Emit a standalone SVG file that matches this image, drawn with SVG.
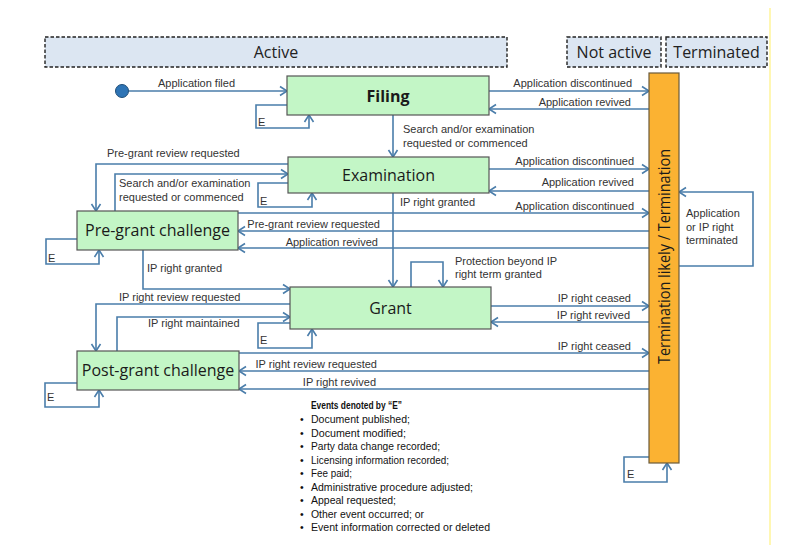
<svg xmlns="http://www.w3.org/2000/svg" width="800" height="545" viewBox="0 0 800 545">
<defs>
<marker id="arr" markerUnits="userSpaceOnUse" markerWidth="12" markerHeight="12" refX="9" refY="6" orient="auto">
<path d="M2,1.5 L9,6 L2,10.5" fill="none" stroke="#4A7DAA" stroke-width="1.6"/>
</marker>
<style>
.hdr{fill:#DCE6F2;stroke:#222;stroke-width:1.4;stroke-dasharray:3.5 2}
.ht{font-family:"Open Sans","Liberation Sans",sans-serif;font-size:16px;fill:#222;text-anchor:middle}
.node{fill:#C3F6C6;stroke:#555;stroke-width:1.2}
.nt{font-family:"Open Sans","Liberation Sans",sans-serif;font-size:16px;fill:#1a1a1a;text-anchor:middle}
.c{fill:none;stroke:#4A7DAA;stroke-width:1.6}
.a{marker-end:url(#arr)}
.l{font-family:"Liberation Sans",Arial,sans-serif;font-size:11px;fill:#333}
.e{text-anchor:end}
.ev{font-family:"Liberation Sans",Arial,sans-serif;font-size:10.5px;fill:#111}
</style>
</defs>
<rect width="800" height="545" fill="#fff"/>
<line x1="770" y1="8" x2="770" y2="545" stroke="#FFF59A" stroke-width="1.5"/>

<g id="hdr-active"><rect class="hdr" x="45" y="37" width="462" height="30"/><text class="ht" x="276" y="57.5">Active</text></g>
<g id="hdr-notactive"><rect class="hdr" x="567" y="37" width="94" height="30"/><text class="ht" x="614" y="57.5">Not active</text></g>
<g id="hdr-terminated"><rect class="hdr" x="666" y="37" width="101" height="30"/><text class="ht" x="716.5" y="57.5">Terminated</text></g>

<g id="connectors">
<path class="c a" d="M129,91 H287"/>
<path class="c a" d="M287,105 H256 V128 H309 V115"/>
<path class="c a" d="M489,91 H649"/>
<path class="c a" d="M649,109 H489"/>
<path class="c a" d="M393,115 V157"/>
<path class="c a" d="M489,169 H649"/>
<path class="c a" d="M649,191 H489"/>
<path class="c a" d="M288,164 H96 V211"/>
<path class="c a" d="M115,211 V174 H288"/>
<path class="c a" d="M288,183 H258 V207 H312 V193"/>
<path class="c a" d="M393,193 V287"/>
<path class="c a" d="M238,213 H649"/>
<path class="c a" d="M649,231 H238"/>
<path class="c a" d="M649,248 H238"/>
<path class="c a" d="M77,239 H46 V264 H99 V250"/>
<path class="c a" d="M143,250 V289 H290"/>
<path class="c a" d="M411,287 V262 H443 V287"/>
<path class="c a" d="M491,306 H649"/>
<path class="c a" d="M649,322 H491"/>
<path class="c a" d="M290,304 H96 V351"/>
<path class="c a" d="M117,351 V317 H290"/>
<path class="c a" d="M290,323 H258 V348 H312 V329"/>
<path class="c a" d="M239,353 H649"/>
<path class="c a" d="M649,371 H239"/>
<path class="c a" d="M649,389 H239"/>
<path class="c a" d="M77,383 H45 V407 H99 V390"/>
<path class="c a" d="M679,266 H753 V192 H679"/>
<path class="c a" d="M649,457 H624 V482 H667 V463"/>
</g>

<g id="start"><circle cx="122" cy="91" r="6.5" fill="#2E74B5" stroke="#1F4E79" stroke-width="1"/></g>

<g id="filing"><rect class="node" x="287" y="76" width="202" height="39"/><text class="nt" x="388" y="101.5" font-weight="bold">Filing</text></g>
<g id="examination"><rect class="node" x="288" y="157" width="201" height="36"/><text class="nt" x="388.5" y="180.5">Examination</text></g>
<g id="pregrant"><rect class="node" x="77" y="211" width="161" height="39"/><text class="nt" x="157.5" y="236">Pre-grant challenge</text></g>
<g id="grant"><rect class="node" x="290" y="287" width="201" height="42"/><text class="nt" x="390.5" y="313.5">Grant</text></g>
<g id="postgrant"><rect class="node" x="77" y="351" width="162" height="39"/><text class="nt" x="158" y="376">Post-grant challenge</text></g>
<g id="termination"><rect x="649" y="73" width="30" height="390" fill="#FBB232" stroke="#6B5A3A" stroke-width="1.2"/><text class="nt" transform="translate(669.5,256.5) rotate(-90)" x="0" y="0" font-size="15.5" textLength="215" lengthAdjust="spacingAndGlyphs">Termination likely / Termination</text></g>

<g id="labels">
<text class="l" x="158" y="87">Application filed</text>
<text class="l" x="258" y="126">E</text>
<text class="l e" x="632" y="87">Application discontinued</text>
<text class="l e" x="631" y="106">Application revived</text>
<text class="l" x="403" y="133">Search and/or examination</text>
<text class="l" x="403" y="147">requested or commenced</text>
<text class="l e" x="634" y="165">Application discontinued</text>
<text class="l e" x="634" y="186">Application revived</text>
<text class="l" x="107" y="157">Pre-grant review requested</text>
<text class="l" x="119" y="187">Search and/or examination</text>
<text class="l" x="119" y="201">requested or commenced</text>
<text class="l" x="260" y="205">E</text>
<text class="l" x="400" y="206">IP right granted</text>
<text class="l e" x="634" y="210">Application discontinued</text>
<text class="l e" x="380" y="228">Pre-grant review requested</text>
<text class="l e" x="378" y="246">Application revived</text>
<text class="l" x="48" y="262">E</text>
<text class="l" x="147" y="272">IP right granted</text>
<text class="l" x="455" y="265">Protection beyond IP</text>
<text class="l" x="455" y="278">right term granted</text>
<text class="l" x="119" y="301">IP right review requested</text>
<text class="l" x="148" y="327">IP right maintained</text>
<text class="l" x="260" y="344">E</text>
<text class="l e" x="631" y="302">IP right ceased</text>
<text class="l e" x="630" y="319">IP right revived</text>
<text class="l e" x="631" y="350">IP right ceased</text>
<text class="l e" x="377" y="368">IP right review requested</text>
<text class="l e" x="376" y="386">IP right revived</text>
<text class="l" x="47" y="401">E</text>
<text class="l" x="686" y="217">Application</text>
<text class="l" x="686" y="231">or IP right</text>
<text class="l" x="686" y="244">terminated</text>
<text class="l" x="627" y="478">E</text>
</g>

<g id="events">
<text class="ev" x="311" y="409" font-weight="bold" textLength="91" lengthAdjust="spacingAndGlyphs">Events denoted by “E”</text>
<g class="ev">
<text x="300" y="423">•</text><text class="ev" x="311" y="423" textLength="99" lengthAdjust="spacingAndGlyphs">Document published;</text>
<text x="300" y="436.5">•</text><text class="ev" x="311" y="436.5" textLength="95" lengthAdjust="spacingAndGlyphs">Document modified;</text>
<text x="300" y="450">•</text><text class="ev" x="311" y="450" textLength="129" lengthAdjust="spacingAndGlyphs">Party data change recorded;</text>
<text x="300" y="463.5">•</text><text class="ev" x="311" y="463.5" textLength="138" lengthAdjust="spacingAndGlyphs">Licensing information recorded;</text>
<text x="300" y="477">•</text><text class="ev" x="311" y="477" textLength="41" lengthAdjust="spacingAndGlyphs">Fee paid;</text>
<text x="300" y="490.5">•</text><text class="ev" x="311" y="490.5" textLength="162" lengthAdjust="spacingAndGlyphs">Administrative procedure adjusted;</text>
<text x="300" y="504">•</text><text class="ev" x="311" y="504" textLength="85" lengthAdjust="spacingAndGlyphs">Appeal requested;</text>
<text x="300" y="517.5">•</text><text class="ev" x="311" y="517.5" textLength="113" lengthAdjust="spacingAndGlyphs">Other event occurred; or</text>
<text x="300" y="531">•</text><text class="ev" x="311" y="531" textLength="179" lengthAdjust="spacingAndGlyphs">Event information corrected or deleted</text>
</g>
</g>
</svg>
